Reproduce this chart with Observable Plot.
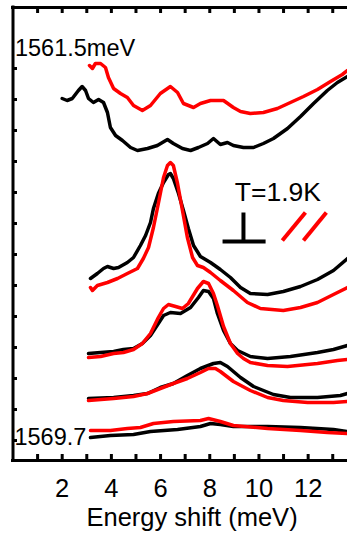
<!DOCTYPE html>
<html><head><meta charset="utf-8">
<script src="https://cdn.jsdelivr.net/npm/d3@7"></script>
<script src="https://cdn.jsdelivr.net/npm/@observablehq/plot@0.6"></script>
<style>
html,body{margin:0;padding:0;background:#fff;}
#chart svg{display:block;}
</style></head><body><div id="chart"></div>
<script>
// Energy shift (meV), intensity (arb. units, offset per excitation energy)
const black1 = [[2.00,362],[2.20,360],[2.41,362],[2.66,370],[2.81,374],[2.95,370],[3.07,362],[3.27,358],[3.48,361],[3.68,358],[3.84,348],[3.96,333],[4.17,325],[4.45,320],[4.78,313],[5.06,310],[5.47,312],[5.87,315],[6.28,321],[6.52,317],[6.89,312],[7.22,310],[7.54,313],[7.91,317],[8.15,322],[8.43,316],[8.72,318],[8.96,315],[9.37,313],[9.78,313],[10.18,317],[10.59,322],[11.16,332],[11.69,344],[12.22,357],[12.78,370],[13.19,378],[13.60,384]];
const red1 = [[3.11,395],[3.23,392],[3.35,397],[3.56,397],[3.76,393],[3.88,383],[4.09,372],[4.37,367],[4.65,363],[4.90,355],[5.26,350],[5.59,355],[5.99,367],[6.40,374],[6.69,368],[6.93,357],[7.34,353],[7.62,357],[8.03,360],[8.56,360],[8.96,353],[9.25,349],[9.65,347],[10.18,348],[10.75,352],[11.28,358],[11.81,364],[12.38,371],[12.91,379],[13.39,386],[13.60,390]];
const black2 = [[3.15,182],[3.43,187],[3.68,192],[3.84,194],[4.09,192],[4.29,193],[4.65,198],[4.90,203],[5.18,215],[5.39,225],[5.59,238],[5.71,252],[5.91,267],[6.12,278],[6.32,286],[6.40,287],[6.52,282],[6.73,267],[6.93,250],[7.13,232],[7.34,215],[7.62,204],[8.03,198],[8.43,191],[8.84,183],[9.25,173],[9.65,167],[10.35,166],[10.99,169],[11.69,174],[12.38,181],[13.03,190],[13.60,202]];
const red2 = [[3.15,173],[3.23,170],[3.43,175],[3.84,178],[4.25,182],[4.65,187],[5.06,192],[5.30,202],[5.51,213],[5.71,233],[5.91,257],[6.12,283],[6.28,295],[6.40,298],[6.52,295],[6.69,277],[6.89,250],[7.09,223],[7.30,203],[7.50,195],[7.74,193],[8.03,188],[8.43,180],[8.96,170],[9.53,158],[10.06,152],[10.99,150],[11.69,153],[12.38,158],[13.03,166],[13.60,173]];
const black3 = [[3.07,107],[3.56,108],[4.09,109],[4.49,111],[4.90,112],[5.26,117],[5.59,125],[5.91,137],[6.12,145],[6.40,148],[6.81,147],[7.22,153],[7.54,163],[7.74,170],[7.95,169],[8.15,162],[8.31,147],[8.56,130],[8.84,117],[9.13,110],[9.65,104],[10.35,102],[11.28,104],[12.38,108],[13.03,111],[13.60,115]];
const red3 = [[3.07,103],[3.56,104],[4.09,107],[4.49,108],[4.90,111],[5.26,117],[5.59,127],[5.91,143],[6.12,152],[6.32,156],[6.61,154],[6.89,152],[7.13,157],[7.50,172],[7.74,179],[7.95,177],[8.15,167],[8.31,155],[8.56,134],[8.84,117],[9.13,107],[9.37,102],[9.65,98],[10.35,95],[11.16,94],[12.38,97],[13.19,100],[13.60,101]];
const black4 = [[3.07,62],[4.09,63],[4.90,65],[5.47,67],[5.99,73],[6.52,77],[7.09,85],[7.62,92],[8.15,97],[8.43,98],[8.72,94],[9.25,83],[9.78,74],[10.59,66],[11.28,63],[12.38,63],[13.31,65],[13.60,67]];
const red4 = [[3.07,60],[4.09,62],[4.90,64],[5.47,67],[5.99,72],[6.52,77],[7.09,82],[7.62,88],[7.95,92],[8.23,92],[8.43,89],[8.96,79],[9.65,70],[10.35,63],[10.99,60],[11.98,58],[13.03,58],[13.60,59]];
const black5 = [[3.15,23],[3.96,25],[4.90,26],[5.59,29],[6.69,31],[7.62,34],[8.03,37],[8.43,36],[8.96,34],[10.35,34],[11.69,33],[13.03,31],[13.60,29]];
const red5 = [[3.15,30],[3.96,30],[4.65,32],[5.18,33],[5.71,37],[6.52,39],[7.62,40],[7.95,42],[8.43,39],[8.96,35],[10.35,32],[11.69,30],[12.78,28],[13.60,27]];

const xTickLabels = [2, 4, 6, 8, 10, 12];
const xMinorTicks = [1, 2, 3, 4, 5, 6, 7, 8, 9, 10, 11, 12, 13];
const yTicks = [20, 51, 82, 113, 144, 175, 206, 237, 268, 299, 330, 361, 392];
const topLabel = "1561.5meV";
const bottomLabel = "1569.7";
const tempLabel = "T=1.9K";
const xLabel = "Energy shift (meV)";
// polarization symbols (perpendicular, parallel) as segments in data space
const perpSymbol = [[8.52, 219, 10.27, 219], [9.37, 219, 9.37, 248]];
const paraSymbol = [[10.95, 220, 11.89, 248], [11.81, 220, 12.74, 248]];

const seriesList = [
  ["1561.5-perp", "perp", black1], ["1561.5-para", "para", red1],
  ["b-perp", "perp", black2], ["b-para", "para", red2],
  ["c-perp", "perp", black3], ["c-para", "para", red3],
  ["d-perp", "perp", black4], ["d-para", "para", red4],
  ["1569.7-perp", "perp", black5], ["1569.7-para", "para", red5]
];
const rows = seriesList.flatMap(([curve, pol, pts]) => pts.map(([E, I]) => ({curve, pol, E, I})));

const W = 347, H = 533, mL = 12.5, mR = 0, mT = 7, mB = 73;
const innerH = H - mT - mB, innerW = W - mL - mR;
const font = "'Liberation Sans', Arial, sans-serif";

const chart = Plot.plot({
  width: W, height: H,
  marginLeft: mL, marginRight: mR, marginTop: mT, marginBottom: mB,
  style: {fontFamily: font, background: "white", overflow: "visible", color: "black"},
  x: {domain: [0, 13.6], axis: null},
  y: {domain: [0, 453], axis: null},
  color: {domain: ["perp", "para"], range: ["#000000", "#ff0000"]},
  marks: [
    Plot.line(rows, {x: "E", y: "I", z: "curve", stroke: "pol", strokeWidth: 3.5, strokeLinejoin: "round", strokeLinecap: "round"}),
    Plot.link(perpSymbol, {x1: d => d[0], y1: d => d[1], x2: d => d[2], y2: d => d[3], stroke: "#000", strokeWidth: 4}),
    Plot.link(paraSymbol, {x1: d => d[0], y1: d => d[1], x2: d => d[2], y2: d => d[3], stroke: "#ff0000", strokeWidth: 4}),
    Plot.text([tempLabel], {x: 10.77, y: 260, text: d => d, textAnchor: "middle", lineAnchor: "bottom", fontSize: 26.5, fill: "#000"}),
    Plot.text([topLabel], {x: 0.08, y: 405, text: d => d, textAnchor: "start", lineAnchor: "bottom", fontSize: 23.5, fill: "#000"}),
    Plot.text([bottomLabel], {x: 0.06, y: 16, text: d => d, textAnchor: "start", lineAnchor: "bottom", fontSize: 23.5, fill: "#000"}),
    // inward ticks
    Plot.tickX(xMinorTicks, {x: d => d, insetTop: innerH - 6, stroke: "#000", strokeWidth: 3}),
    Plot.tickX(xMinorTicks, {x: d => d, insetBottom: innerH - 6, stroke: "#000", strokeWidth: 3}),
    Plot.tickY(yTicks, {y: d => d, insetRight: innerW - 4.5, stroke: "#000", strokeWidth: 3}),
    // frame (left, top, bottom)
    Plot.ruleX([0], {stroke: "#000", strokeWidth: 3, strokeLinecap: "square"}),
    Plot.ruleY([0, 453], {stroke: "#000", strokeWidth: 3, strokeLinecap: "square"}),
    Plot.axisX(xTickLabels, {anchor: "bottom", tickSize: 0, tickPadding: 18.5, fontSize: 25.5, label: null, fill: "#000"}),
    Plot.text([xLabel], {x: 7.28, y: -65.5, text: d => d, textAnchor: "middle", lineAnchor: "bottom", fontSize: 25.5, fill: "#000"})
  ]
});
document.getElementById("chart").appendChild(chart);
</script>
</body></html>
